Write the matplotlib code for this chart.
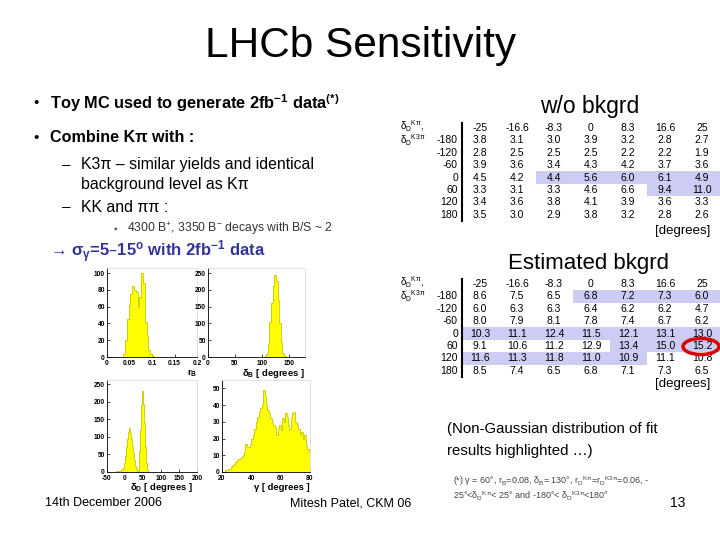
import numpy as np
import matplotlib
matplotlib.use("Agg")
import matplotlib.pyplot as plt
from matplotlib.patches import Rectangle, Ellipse

plt.rcParams['font.family'] = ['Liberation Sans', 'DejaVu Sans']
plt.rcParams['mathtext.default'] = 'regular'

## Table data
col_labels = ["-25", "-16.6", "-8.3", "0", "8.3", "16.6", "25"]
row_labels = ["-180", "-120", "-60", "0", "60", "120", "180"]

table_nobkg = [
    [3.8, 3.1, 3.0, 3.9, 3.2, 2.8, 2.7],
    [2.8, 2.5, 2.5, 2.5, 2.2, 2.2, 1.9],
    [3.9, 3.6, 3.4, 4.3, 4.2, 3.7, 3.6],
    [4.5, 4.2, 4.4, 5.6, 6.0, 6.1, 4.9],
    [3.3, 3.1, 3.3, 4.6, 6.6, 9.4, 11.0],
    [3.4, 3.6, 3.8, 4.1, 3.9, 3.6, 3.3],
    [3.5, 3.0, 2.9, 3.8, 3.2, 2.8, 2.6],
]
table_bkg = [
    [8.6, 7.5, 6.5, 6.8, 7.2, 7.3, 6.0],
    [6.0, 6.3, 6.3, 6.4, 6.2, 6.2, 4.7],
    [8.0, 7.9, 8.1, 7.8, 7.4, 6.7, 6.2],
    [10.3, 11.1, 12.4, 11.5, 12.1, 13.1, 13.0],
    [9.1, 10.6, 11.2, 12.9, 13.4, 15.0, 15.2],
    [11.6, 11.3, 11.8, 11.0, 10.9, 11.1, 10.8],
    [8.5, 7.4, 6.5, 6.8, 7.1, 7.3, 6.5],
]
# highlighted (row, first col, last col) - non-Gaussian fits
hl_nobkg = [(3, 2, 6), (4, 5, 6)]
hl_bkg = [(0, 3, 6), (3, 0, 6), (4, 4, 6), (5, 0, 4)]

## Histogram data (bin counts)
rb_lo, rb_w = 0.036, 0.004
rb_counts = [3, 20, 45, 62, 75, 85, 80, 78, 60, 72, 100, 88, 42, 25, 8, 3, 1]
db_lo, db_w = 105, 3
db_counts = [2, 8, 40, 105, 160, 210, 245, 225, 170, 100, 45, 12, 3]
dd_lo, dd_w = -25, 2.5
dd_counts = [2, 3, 3, 4, 4, 5, 6, 8, 12, 25, 45, 70, 95, 115, 125, 120, 110, 95,
             75, 55, 35, 18, 8, 3, 2, 20, 60, 120, 190, 230, 195, 140, 70, 25, 6, 2]
g_lo, g_w = 22, 1
g_counts = [1, 1, 2, 2, 3, 4, 5, 6, 7, 8, 8, 9, 10, 12, 17, 15, 15, 16, 20, 22,
            26, 30, 33, 36, 38, 40, 49, 45, 40, 37, 35, 32, 30, 28, 27, 22, 26, 28,
            25, 32, 30, 35, 33, 28, 26, 32, 35, 36, 30, 28, 26, 22, 24, 20, 22, 16,
            14, 12]

fig = plt.figure(figsize=(7.2, 5.4), dpi=100)
bg = fig.add_axes([0, 0, 1, 1])
bg.set_xlim(0, 720)
bg.set_ylim(540, 0)
bg.axis('off')

def txt(x, y, s, size, **kw):
    bg.text(x, y, s, fontsize=size, va='center', **kw)

## Slide text
txt(361, 46, "LHCb Sensitivity", 30.5, ha='center')
txt(33, 103, "•", 11)
txt(50, 103, "Toy MC used to generate 2fb$^{-1}$ data$^{(*)}$", 11.8, fontweight='bold')
txt(33, 138, "•", 11)
txt(50, 138, "Combine Kπ with :", 11.6, fontweight='bold')
txt(62, 165, "–", 11)
txt(81, 165, "K3π – similar yields and identical", 11.4)
txt(81, 184, "background level as Kπ", 11.4)
txt(62, 207, "–", 11)
txt(81, 207, "KK and ππ :", 11.4)
txt(113, 229, "▪", 7, color='#555555')
txt(127, 229, "4300 B$^{+}$, 3350 B$^{-}$ decays with B/S ~ 2", 8.7, color='#333333')
txt(50, 252, "→ σ$_{\\gamma}$=5–15$^{o}$ with 2fb$^{-1}$ data", 12, color='#333399',
    fontweight='bold')

txt(590, 107, "w/o bkgrd", 16.5, ha='center')
txt(588, 264, "Estimated bkgrd", 16, ha='center')
txt(710, 231, "[degrees]", 9.5, ha='right')
txt(710, 384, "[degrees]", 9.5, ha='right')
txt(447, 429, "(Non-Gaussian distribution of fit", 10.8)
txt(447, 451, "results highlighted …)", 10.8)
txt(453, 481, "(*) γ = 60°, r$_{B}$=0.08, δ$_{B}$= 130°, r$_{D}$$^{Kπ}$=r$_{D}$$^{K3π}$=0.06, -",
    6.5, color='#444444')
txt(453, 496, "25°<δ$_{D}$$^{Kπ}$< 25° and -180°< δ$_{D}$$^{K3π}$<180°", 6.5, color='#444444')
txt(670, 503, "13", 10)
txt(45, 503, "14th December 2006", 9)
txt(290, 503, "Mitesh Patel, CKM 06", 9)

## Tables
def draw_table(y_head, values, highlights):
    x0, dx, dy = 480, 37, 12.4
    for r, c0, c1 in highlights:
        y = y_head + (r + 1) * dy
        bg.add_patch(Rectangle((x0 + c0 * dx - 18.5, y - 6.2), (c1 - c0 + 1) * dx, dy,
                               color='#ccccf5', lw=0, zorder=0))
    bg.plot([462, 462], [y_head - 5, y_head + 7.5 * dy], color='black', lw=1.5)
    for j, c in enumerate(col_labels):
        txt(x0 + j * dx, y_head, c, 7.5, ha='center')
    for i, rl in enumerate(row_labels):
        y = y_head + (i + 1) * dy
        txt(458, y, rl, 7.5, ha='right')
        for j, v in enumerate(values[i]):
            txt(x0 + j * dx, y, f"{v:.1f}", 7.5, ha='center')
    txt(400, y_head - 2, "δ$_{D}$$^{Kπ}$,", 7)
    txt(400, y_head + dy, "δ$_{D}$$^{K3π}$", 7)

draw_table(128, table_nobkg, hl_nobkg)
draw_table(284, table_bkg, hl_bkg)
bg.add_patch(Ellipse((701, 346.5), 36, 16, fill=False, ec='#dd0000', lw=2.5, zorder=5))

## Histograms
def hist_axes(x0, x1, yt, yb, lo, w, counts, xlim, ylim, xticks, xticklabels, yticks,
              xlabel, lab_xy):
    ax = fig.add_axes([x0 / 720, 1 - yb / 540, (x1 - x0) / 720, (yb - yt) / 540])
    edges = lo + w * np.arange(len(counts) + 1)
    ax.stairs(counts, edges, fill=True, color='#ffff00', zorder=2)
    ax.stairs(counts, edges, color='#c8c800', lw=0.6, zorder=3)
    ax.set_xlim(*xlim)
    ax.set_ylim(*ylim)
    ax.set_xticks(xticks, xticklabels)
    ax.set_yticks(yticks)
    ax.tick_params(labelsize=4.8, length=2, width=0.5, pad=1.5, direction='in')
    ax.tick_params(axis='x', pad=2.5)
    for lab in ax.get_xticklabels() + ax.get_yticklabels():
        lab.set_fontweight('bold')
    for s in ['top', 'right']:
        ax.spines[s].set_color('#dddddd')
    for s in ax.spines.values():
        s.set_linewidth(0.6)
    txt(lab_xy[0], lab_xy[1], xlabel, 6.8, ha='right', fontweight='bold')
    return ax

hist_axes(107, 197, 268, 357, rb_lo, rb_w, rb_counts, (0, 0.2), (0, 106),
          [0, 0.05, 0.1, 0.15, 0.2], ["0", "0.05", "0.1", "0.15", "0.2"],
          [0, 20, 40, 60, 80, 100], "r$_{B}$", (197, 373))
hist_axes(208, 305, 268, 357, db_lo, db_w, db_counts, (0, 180), (0, 265),
          [0, 50, 100, 150], ["0", "50", "100", "150"],
          [0, 50, 100, 150, 200, 250], "δ$_{B}$ [ degrees ]", (305, 374))
hist_axes(107, 197, 380, 472, dd_lo, dd_w, dd_counts, (-50, 200), (0, 262),
          [-50, 0, 50, 100, 150, 200], ["-50", "0", "50", "100", "150", "200"],
          [0, 50, 100, 150, 200, 250], "δ$_{D}$ [ degrees ]", (193, 488))
hist_axes(222, 310, 380, 472, g_lo, g_w, g_counts, (20, 80), (0, 55),
          [20, 40, 60, 80], ["20", "40", "60", "80"],
          [0, 10, 20, 30, 40, 50], "γ [ degrees ]", (310, 488))

fig.savefig("out.png", dpi=100)
